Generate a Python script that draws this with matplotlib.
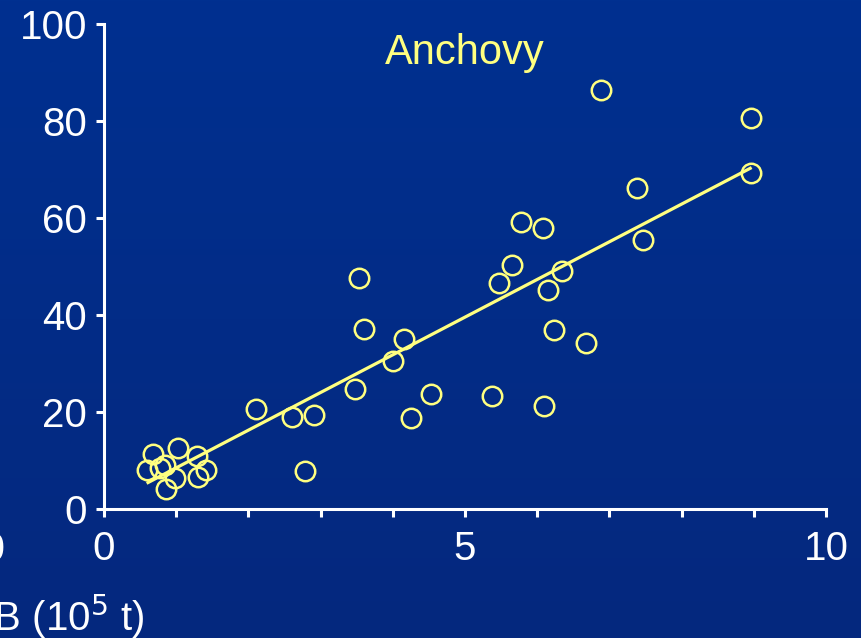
import numpy as np
import matplotlib
matplotlib.use("Agg")
import matplotlib.pyplot as plt
from matplotlib.colors import LinearSegmentedColormap

# Data (x in 10^5 t, y values)
x_vals = [0.60, 0.68, 0.78, 0.85, 0.86, 0.98, 1.03, 1.29, 1.30, 1.41,
          2.10, 2.60, 2.78, 2.91, 3.48, 3.53, 3.60, 4.00, 4.16, 4.25,
          4.53, 5.37, 5.47, 5.65, 5.77, 6.08, 6.09, 6.15, 6.23, 6.34,
          6.68, 6.88, 7.38, 7.47, 8.96, 8.96]
y_vals = [8.0, 11.3, 8.5, 9.1, 4.1, 6.4, 12.6, 10.9, 6.6, 8.0,
          20.6, 19.0, 7.8, 19.4, 24.7, 47.6, 37.1, 30.5, 35.1, 18.8,
          23.7, 23.3, 46.6, 50.3, 59.2, 57.9, 21.2, 45.2, 36.9, 49.1,
          34.2, 86.4, 66.2, 55.5, 80.6, 69.3]
fit_x = [0.59, 8.97]
fit_y = [5.3, 70.4]
x_major = [0, 5, 10]
x_minor = [1, 2, 3, 4, 6, 7, 8, 9]
y_ticks = [0, 20, 40, 60, 80, 100]
title = "Anchovy"

plt.rcParams['font.family'] = ['Liberation Sans', 'DejaVu Sans']
W, H = 861, 638
fig = plt.figure(figsize=(W / 100, H / 100), dpi=100)

# gradient background
bg = fig.add_axes([0, 0, 1, 1], zorder=-10)
cmap = LinearSegmentedColormap.from_list("bg", ["#003090", "#05287e"])
grad = np.linspace(0, 1, 256).reshape(-1, 1)
bg.imshow(grad, aspect='auto', cmap=cmap, extent=[0, 1, 0, 1], origin='upper')
bg.set_axis_off()

ax = fig.add_axes([104 / W, 1 - 509 / H, (826 - 104) / W, (509 - 24) / H])
ax.patch.set_alpha(0)
yellow = "#FFFF80"
ax.plot(fit_x, fit_y, color=yellow, lw=2.3, solid_capstyle='butt', zorder=2)
ax.plot(x_vals, y_vals, 'o', ms=14, mfc='none', mec=yellow, mew=1.8, zorder=3, clip_on=False)

ax.set_xlim(0, 10)
ax.set_ylim(0, 100)
for s in ['top', 'right']:
    ax.spines[s].set_visible(False)
for s in ['left', 'bottom']:
    ax.spines[s].set_color('white')
    ax.spines[s].set_linewidth(2.2)
ax.set_xticks(x_major)
ax.set_xticks(x_minor, minor=True)
ax.set_yticks(y_ticks)
ax.tick_params(axis='x', which='both', direction='out', length=6, width=2.2, color='white')
ax.tick_params(axis='x', which='major', labelsize=29, labelcolor='white', pad=9)
ax.tick_params(axis='y', which='major', direction='out', length=6, width=2.2, color='white',
               labelsize=29, labelcolor='white', pad=6)

ax.text(5.0, 94, title, color=yellow, fontsize=30, ha='center', va='center')

# cut-off remnants of neighbouring panel (cut off in the reference as well)
fig.text(6 / W, 1 - 550 / H, "10", color='white', fontsize=29, ha='right', va='center')
fig.text(145 / W, 1 - 617 / H, "SSB (10$^5$ t)", color='white', fontsize=29, ha='right', va='center')

fig.savefig("out.png", dpi=100)
